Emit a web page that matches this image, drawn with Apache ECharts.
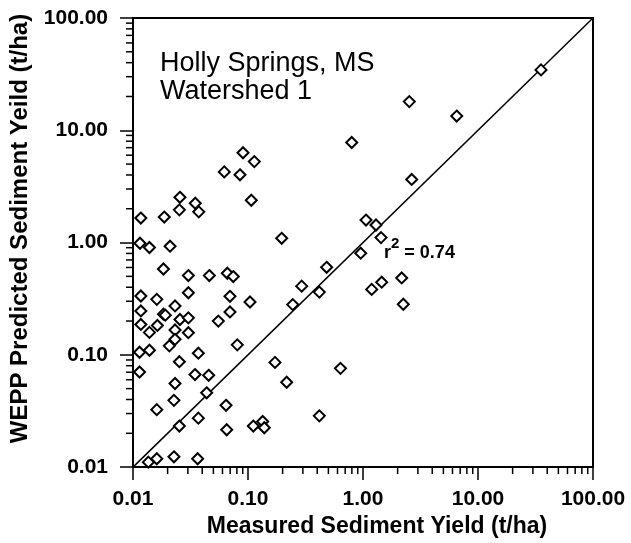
<!DOCTYPE html>
<html>
<head>
<meta charset="utf-8">
<script src="https://cdn.jsdelivr.net/npm/echarts@6/dist/echarts.min.js"></script>
<style>
html,body{margin:0;padding:0;background:#fff;}
#chart{width:631px;height:543px;}
</style>
</head>
<body>
<div id="chart"></div>
<script>
// Measured (x) and WEPP predicted (y) sediment yield, t/ha
const measured = [
  0.798, 0.0905, 0.1135, 0.0622, 0.0852, 0.1068, 0.0256, 0.0253, 0.0348, 0.0373,
  0.0117, 0.0187, 0.1963, 0.0115, 0.0139, 0.0210, 0.0184, 0.0303, 0.0461, 0.0661,
  0.0745, 0.483, 0.293, 0.417, 0.0117, 0.0161, 0.0303, 0.0697, 0.1041, 0.245,
  0.0232, 0.0117, 0.0184, 0.0191, 0.0697, 0.0256, 0.0303, 0.0552, 0.0117, 0.0163,
  0.0139, 0.0232, 0.0303, 0.0232, 0.0207, 0.0807, 0.0114, 0.0139, 0.0370, 0.0253,
  0.1717, 0.637, 0.0114, 0.0346, 0.0455, 0.0232, 0.217, 0.0437, 0.0227, 0.0644,
  0.0161, 0.417, 0.0370, 0.0253, 0.0653, 0.1112, 0.1342, 0.1386, 0.0136, 0.0161,
  0.0227, 0.0365, 2.527, 6.53, 35.3, 2.652, 1.062, 1.297, 1.434, 0.955,
  1.19, 1.454, 2.17, 2.24
];
const predicted = [
  7.78, 6.31, 5.26, 4.26, 4.01, 2.38, 2.53, 1.955, 2.24, 1.877,
  1.652, 1.686, 1.091, 0.986, 0.903, 0.928, 0.581, 0.508, 0.508, 0.533,
  0.498, 0.602, 0.409, 0.362, 0.334, 0.312, 0.357, 0.332, 0.2955, 0.280,
  0.2725, 0.246, 0.2303, 0.2256, 0.241, 0.2063, 0.2135, 0.1997, 0.1864, 0.1827,
  0.1584, 0.1663, 0.1575, 0.1374, 0.1202, 0.1227, 0.1055, 0.1099, 0.1034, 0.0869,
  0.0856, 0.0758, 0.0703, 0.0667, 0.0657, 0.0555, 0.0570, 0.0459, 0.0393, 0.0355,
  0.0325, 0.0286, 0.0273, 0.0232, 0.0215, 0.0232, 0.0255, 0.0224, 0.01107, 0.01186,
  0.01235, 0.01186, 18.0, 13.39, 34.5, 3.65, 1.586, 1.433, 1.107, 0.804,
  0.3826, 0.4437, 0.484, 0.282
];
const oneToOne = [[0.01, 0.01], [100, 100]];
const axisMin = 0.01;
const axisMax = 100;
const minorTickValues = [
  0.02, 0.03, 0.04, 0.05, 0.06, 0.07, 0.08, 0.09,
  0.2, 0.3, 0.4, 0.5, 0.6, 0.7, 0.8, 0.9,
  2, 3, 4, 5, 6, 7, 8, 9,
  20, 30, 40, 50, 60, 70, 80, 90
];
const titleLines = ['Holly Springs, MS', 'Watershed 1'];
const r2Text = '0.74';
const xTitle = 'Measured Sediment Yield (t/ha)';
const yTitle = 'WEPP Predicted Sediment Yeild (t/ha)';

const FONT = '"Liberation Sans", Arial, Helvetica, sans-serif';
const points = measured.map((v, i) => [v, predicted[i]]);

const chart = echarts.init(document.getElementById('chart'), null, {renderer: 'canvas'});

function axisCommon(name, gap, labelMargin, namePad, nameSize) {
  return {
    type: 'log', logBase: 10, min: axisMin, max: axisMax,
    name: name, nameLocation: 'middle', nameGap: gap,
    nameTextStyle: {fontFamily: FONT, fontWeight: 'bold', fontSize: nameSize, color: '#000', padding: namePad},
    axisLine: {show: true, lineStyle: {color: '#000', width: 2}},
    axisTick: {show: true, inside: false, length: 13, lineStyle: {color: '#000', width: 1.5}},
    axisLabel: {
      color: '#000', fontFamily: FONT, fontWeight: 'bold', fontSize: 21, margin: labelMargin,
      formatter: v => Number(v).toFixed(2)
    },
    splitLine: {show: false},
    minorTick: {show: false}
  };
}

const option = {
  animation: false,
  backgroundColor: '#fff',
  grid: {left: 133, right: 38, top: 18, bottom: 71, show: true, borderColor: '#000', borderWidth: 2, backgroundColor: 'transparent'},
  xAxis: axisCommon(xTitle, 42, 22, [0, 0, 0, 28], 23),
  yAxis: axisCommon(yTitle, 87, 25, [0, 0, 0, 28], 24),
  series: [
    {
      type: 'line', data: oneToOne, symbol: 'none', silent: true,
      lineStyle: {color: '#000', width: 1.5}, z: 2
    },
    {
      type: 'scatter', data: points, symbol: 'diamond', symbolSize: [11, 11],
      itemStyle: {color: '#fff', borderColor: '#000', borderWidth: 2, opacity: 1}, z: 3
    },
    {
      type: 'custom', silent: true, clip: false, z: 5,
      data: minorTickValues.map(v => [v, axisMin]),
      encode: {x: 0, y: 1},
      renderItem: function (params, api) {
        const p = api.coord([api.value(0), api.value(1)]);
        return {type: 'line', shape: {x1: p[0], y1: p[1], x2: p[0], y2: p[1] + 7},
          style: {stroke: '#000', lineWidth: 1.5}};
      }
    },
    {
      type: 'custom', silent: true, clip: false, z: 5,
      data: minorTickValues.map(v => [axisMin, v]),
      encode: {x: 0, y: 1},
      renderItem: function (params, api) {
        const p = api.coord([api.value(0), api.value(1)]);
        return {type: 'line', shape: {x1: p[0] - 7, y1: p[1], x2: p[0], y2: p[1]},
          style: {stroke: '#000', lineWidth: 1.5}};
      }
    }
  ],
  graphic: [
    {
      type: 'text', left: 160, top: 50, silent: true,
      style: {text: titleLines.join('\n'), fontFamily: FONT, fontSize: 27, lineHeight: 28, fill: '#000'}
    },
    {
      type: 'text', left: 384, top: 236, silent: true,
      style: {
        text: '{r|r}{s|2}{r| = ' + r2Text + '}',
        rich: {
          r: {fontFamily: FONT, fontWeight: 'bold', fontSize: 18, fill: '#000', verticalAlign: 'bottom', lineHeight: 26},
          s: {fontFamily: FONT, fontWeight: 'bold', fontSize: 15, fill: '#000', verticalAlign: 'top', lineHeight: 26, padding: [0, 0, 10, 0]}
        }
      }
    }
  ]
};
chart.setOption(option);
</script>
</body>
</html>
